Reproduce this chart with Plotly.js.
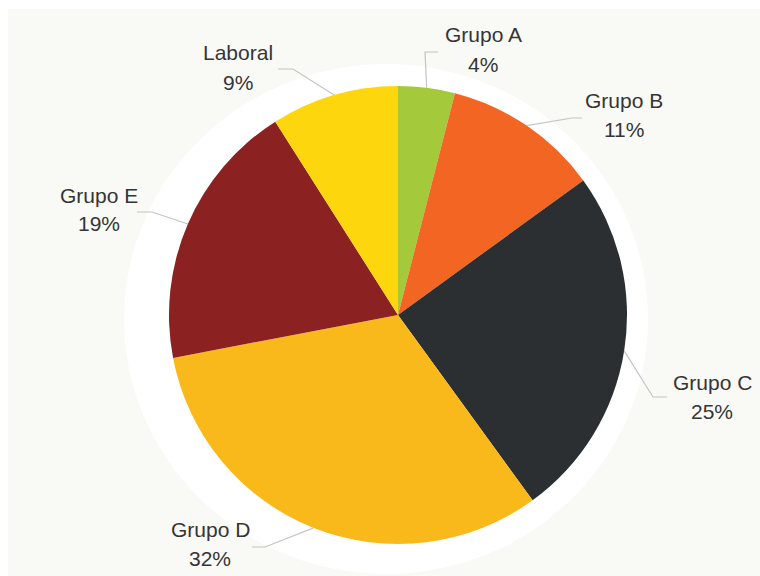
<!DOCTYPE html>
<html>
<head>
<meta charset="utf-8">
<script src="https://cdn.plot.ly/plotly-3.0.1.min.js"></script>
<style>html,body{margin:0;padding:0;background:#fff;}#chart{width:760px;height:576px;}</style>
</head>
<body>
<div id="chart"></div>
<script>
// ---- data ----
var categories = ["Grupo A", "Grupo B", "Grupo C", "Grupo D", "Grupo E", "Laboral"];
var values = [4, 11, 25, 32, 19, 9];
var colors = ["#a4c93b", "#f26522", "#2b2f31", "#f9b91b", "#8c2121", "#fed60e"];

// ---- layout constants (pixels) ----
var W = 760, H = 576;
var CX = 398, CY = 315, R = 229;
// label centre (name line), elbow point and end of leader, per category
var labelPos = [[483, 35], [624, 100], [712, 382], [210, 529], [99, 195], [238, 53]];
var elbowPos = [[425, 52], [572, 118], [653, 397], [265, 547], [152, 212], [293, 69]];
var endPos   = [[438, 52], [582, 118], [667, 397], [252, 547], [137, 212], [278, 69]];
var LINE_GAP = 29;

function px(x) { return x / W; }
function py(y) { return 1 - y / H; }

var total = values.reduce(function (a, b) { return a + b; }, 0);
var annotations = [];
var shapes = [
  {type: "rect", xref: "paper", yref: "paper", x0: px(8), x1: px(W), y0: py(H), y1: py(9),
   fillcolor: "#f9faf6", line: {width: 0}, layer: "below"},
  {type: "circle", xref: "paper", yref: "paper", x0: px(124), x1: px(648),
   y0: py(574), y1: py(64), fillcolor: "#ffffff", line: {width: 0}, layer: "below"}
];
var cum = 0;
var font = {family: "Liberation Sans, Arial, sans-serif", size: 21, color: "#353535"};
for (var i = 0; i < values.length; i++) {
  var mid = (cum + values[i] / 2) / total * 2 * Math.PI;
  cum += values[i];
  var ex = CX + R * Math.sin(mid), ey = CY - R * Math.cos(mid);
  var pct = Math.round(values[i] / total * 100) + "%";
  shapes.push({type: "path", xref: "paper", yref: "paper",
    path: "M" + px(ex) + "," + py(ey) + " L" + px(elbowPos[i][0]) + "," + py(elbowPos[i][1]) +
          " L" + px(endPos[i][0]) + "," + py(endPos[i][1]),
    line: {color: "#c4c4c4", width: 1.2}, layer: "above"});
  annotations.push({xref: "paper", yref: "paper", x: px(labelPos[i][0]), y: py(labelPos[i][1]),
    text: categories[i], showarrow: false, xanchor: "center", yanchor: "middle", font: font});
  annotations.push({xref: "paper", yref: "paper", x: px(labelPos[i][0]), y: py(labelPos[i][1] + LINE_GAP),
    text: pct, showarrow: false, xanchor: "center", yanchor: "middle", font: font});
}

var trace = {
  type: "pie",
  labels: categories,
  values: values,
  marker: {colors: colors, line: {width: 0}},
  sort: false,
  direction: "clockwise",
  rotation: 0,
  textinfo: "none",
  hoverinfo: "none",
  showlegend: false,
  domain: {x: [px(CX - R), px(CX + R)], y: [py(CY + R), py(CY - R)]}
};

var layout = {
  width: W, height: H,
  margin: {l: 0, r: 0, t: 0, b: 0},
  paper_bgcolor: "#ffffff",
  showlegend: false,
  shapes: shapes,
  annotations: annotations
};

Plotly.newPlot("chart", [trace], layout, {displayModeBar: false, staticPlot: true});
</script>
</body>
</html>
